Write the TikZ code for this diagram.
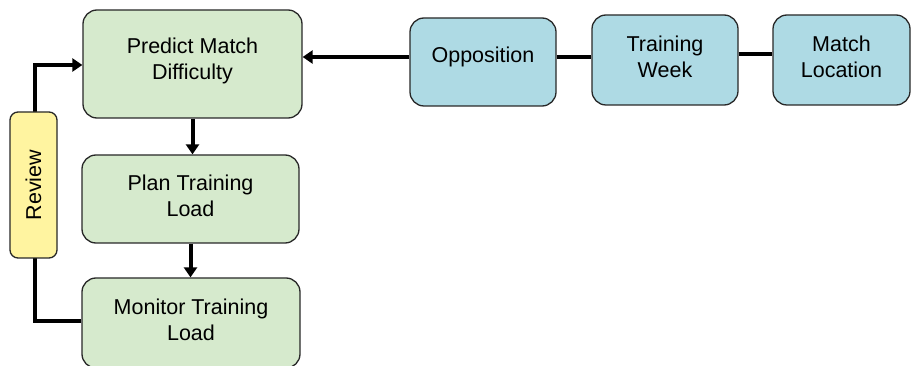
\documentclass[tikz,border=0pt]{standalone}
\usepackage{fontspec}
\setmainfont{Liberation Sans}
\usetikzlibrary{arrows.meta,calc}
\definecolor{boxgreen}{RGB}{214,234,205}
\definecolor{boxblue}{RGB}{174,218,228}
\definecolor{boxyellow}{RGB}{255,244,160}
\definecolor{edge}{RGB}{40,40,40}
\tikzset{
  txt/.style={align=center, font=\fontsize{21.5}{26}\selectfont, inner sep=0pt, yshift=3pt},
  box/.style={draw=edge, line width=1.3pt, rounded corners=14pt, inner sep=0pt},
  gbox/.style={box, fill=boxgreen},
  bbox/.style={box, fill=boxblue},
  ybox/.style={box, fill=boxyellow, rounded corners=8pt},
  conn/.style={line width=4pt, black},
  arr/.style={conn, -{Triangle[length=10pt,width=13pt]}},
}
\begin{document}
\begin{tikzpicture}[x=1pt,y=-1pt]
\useasboundingbox (0,0) rectangle (911,366);
\clip (0,0) rectangle (911,366);
\node[gbox, minimum width=219pt, minimum height=108pt, label={[txt]center:{Predict Match\\Difficulty}}] (predict) at (192.5,64) {};
\node[gbox, minimum width=217pt, minimum height=88pt, label={[txt]center:{Plan Training\\Load}}] (plan) at (190.5,199) {};
\node[gbox, minimum width=218pt, minimum height=90pt, label={[txt]center:{Monitor Training\\Load}}] (monitor) at (191,323) {};
\node[bbox, minimum width=146pt, minimum height=88pt, label={[txt,yshift=2pt]center:{Opposition}}] (opp) at (483,62) {};
\node[bbox, minimum width=146pt, minimum height=90pt, label={[txt]center:{Training\\Week}}] (week) at (665,60) {};
\node[bbox, minimum width=137pt, minimum height=90pt, label={[txt]center:{Match\\Location}}] (loc) at (841.5,60) {};
% connectors
\draw[arr] ([yshift=5pt]opp.west) -- ([yshift=5pt]opp.west -| predict.east);
\draw[conn] ([yshift=5pt]opp.east) -- ([yshift=5pt]opp.east -| week.west);
\draw[conn] ([yshift=6pt]week.east) -- ([yshift=6pt]week.east -| loc.west);
\draw[arr] (predict.south) -- (predict.south |- plan.north);
\draw[arr] (plan.south) -- (plan.south |- monitor.north);
\coordinate (lx) at (35,0);
\draw[arr] ([yshift=2pt]monitor.west) -| ([yshift=-1pt]lx |- predict.west) -- ([yshift=-1pt]predict.west);
\node[ybox, minimum width=47pt, minimum height=146pt] (review) at (33.5,185) {};
\node[rotate=90, font=\fontsize{21.5}{26}\selectfont, inner sep=0pt] at (review.center) {Review};
\end{tikzpicture}
\end{document}
